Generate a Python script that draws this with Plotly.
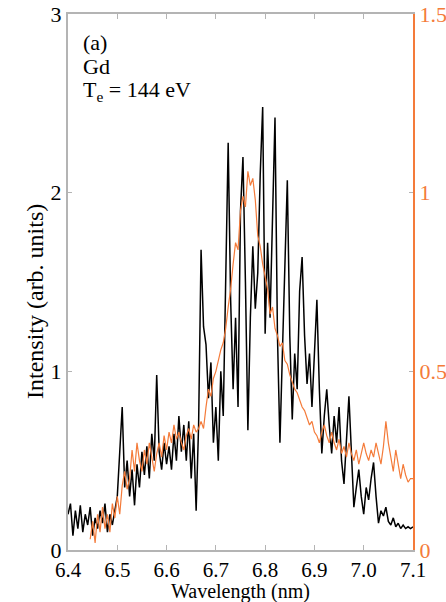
import plotly.graph_objects as go

# ---- data ----
wl_black = [round(6.400 + 0.005 * i, 3) for i in range(141)]
int_black = [
    0.20, 0.26, 0.08, 0.22, 0.12, 0.25, 0.10, 0.20, 0.14, 0.24,
    0.08, 0.18, 0.12, 0.22, 0.15, 0.26, 0.10, 0.20, 0.14, 0.23,
    0.30, 0.55, 0.80, 0.35, 0.50, 0.30, 0.45, 0.25, 0.48, 0.35,
    0.55, 0.42, 0.58, 0.40, 0.65, 0.50, 0.98, 0.55, 0.45, 0.60,
    0.48, 0.58, 0.45, 0.65, 0.50, 0.75, 0.55, 0.70, 0.50, 0.72,
    0.40, 0.65, 0.22, 0.70, 1.68, 1.25, 1.15, 0.85, 1.05, 0.60,
    0.80, 0.50, 1.00, 0.75, 1.60, 2.28, 1.40, 0.90, 1.30, 0.80,
    1.90, 2.20, 1.50, 0.67, 1.30, 1.70, 1.35, 1.55, 2.10, 2.48,
    1.21, 1.72, 1.30, 1.90, 2.42, 1.20, 0.60, 1.10, 1.60, 2.07,
    1.20, 0.73, 1.10, 0.90, 1.45, 1.64, 1.20, 0.93, 1.10, 0.80,
    1.10, 1.40, 0.90, 0.54, 0.75, 0.90, 0.70, 0.54, 0.75, 0.60,
    0.80, 0.50, 0.37, 0.65, 0.86, 0.55, 0.24, 0.35, 0.45, 0.30,
    0.20, 0.35, 0.28, 0.40, 0.49, 0.30, 0.15, 0.22, 0.19, 0.24,
    0.16, 0.14, 0.18, 0.13, 0.15, 0.12, 0.14, 0.12, 0.13, 0.12,
    0.13,
]

wl_orange = [round(6.445 + 0.005 * i, 3) for i in range(132)]
int_orange = [
    0.03, 0.08, 0.02, 0.10, 0.05, 0.12, 0.06, 0.10, 0.05, 0.13,
    0.09, 0.15, 0.10, 0.18, 0.22, 0.17, 0.20, 0.28, 0.22, 0.30,
    0.25, 0.22, 0.28, 0.24, 0.30, 0.26, 0.22, 0.27, 0.30, 0.26,
    0.32, 0.28, 0.33, 0.30, 0.35, 0.31, 0.33, 0.30, 0.28, 0.32,
    0.34, 0.31, 0.35, 0.33, 0.34, 0.36, 0.34, 0.40, 0.45, 0.43,
    0.48, 0.50, 0.53, 0.56, 0.58, 0.62, 0.68, 0.73, 0.80, 0.86,
    0.84, 0.95, 0.99, 0.96, 1.06, 1.02, 1.04, 0.98, 0.88, 0.85,
    0.80, 0.76, 0.73, 0.66, 0.68, 0.62, 0.60, 0.57, 0.58, 0.53,
    0.52, 0.49, 0.47, 0.45, 0.44, 0.42, 0.40, 0.39, 0.37, 0.35,
    0.36, 0.33, 0.32, 0.30, 0.33, 0.35, 0.32, 0.30, 0.33, 0.30,
    0.28, 0.31, 0.27, 0.29, 0.26, 0.30, 0.27, 0.25, 0.28, 0.24,
    0.27, 0.30, 0.27, 0.25, 0.28, 0.26, 0.30, 0.27, 0.24, 0.29,
    0.36, 0.30, 0.26, 0.22, 0.28, 0.24, 0.20, 0.24, 0.21, 0.19,
    0.20, 0.20,
]

x_ticks = [6.4, 6.5, 6.6, 6.7, 6.8, 6.9, 7.0, 7.1]
y_ticks = [0, 1, 2, 3]
y2_ticks = [0, 0.5, 1, 1.5]
y2_labels = ["0", "0.5", "1", "1.5"]
x_title = "Wavelength (nm)"
y_title = "Intensity (arb. units)"

ORANGE = "#F47B3A"
AXGRAY = "#b4b4b4"
FONT = "Liberation Serif, Times New Roman, DejaVu Serif, serif"

fig = go.Figure()
fig.add_trace(go.Scatter(x=wl_black, y=int_black, mode="lines",
                         line=dict(color="black", width=1.5), yaxis="y"))
fig.add_trace(go.Scatter(x=wl_orange, y=int_orange, mode="lines",
                         line=dict(color=ORANGE, width=1.2), yaxis="y2"))

fig.update_layout(
    width=446, height=602,
    margin=dict(l=68, r=33, t=14, b=52),
    paper_bgcolor="white", plot_bgcolor="white",
    showlegend=False,
    font=dict(family=FONT, color="black", size=21),
    xaxis=dict(
        range=[6.4, 7.1], tickvals=x_ticks,
        ticktext=[f"{v:.1f}" for v in x_ticks],
        ticks="inside", ticklen=5, tickwidth=1, tickcolor=AXGRAY,
        showline=True, linecolor=AXGRAY, linewidth=2, mirror="ticks",
        showgrid=False, zeroline=False, automargin=False,
        tickfont=dict(family=FONT, size=21, color="black"),
    ),
    yaxis=dict(
        range=[0, 3], tickvals=y_ticks,
        ticks="inside", ticklen=4, tickwidth=1, tickcolor=AXGRAY,
        showline=True, linecolor=AXGRAY, linewidth=2,
        showgrid=False, zeroline=False, automargin=False,
        tickfont=dict(family=FONT, size=22, color="black"),
    ),
    yaxis2=dict(
        range=[0, 1.5], tickvals=y2_ticks, ticktext=y2_labels,
        overlaying="y", side="right",
        ticks="inside", ticklen=4, tickwidth=1, tickcolor=AXGRAY,
        showline=True, linecolor=ORANGE, linewidth=2,
        showgrid=False, zeroline=False, automargin=False,
        tickfont=dict(family=FONT, size=22, color=ORANGE),
    ),
)

fig.add_annotation(text=x_title, xref="paper", yref="paper",
                   x=(240 - 68) / 345, y=-(591 - 550) / 536,
                   xanchor="center", yanchor="middle", showarrow=False,
                   font=dict(family=FONT, size=20, color="black"))
fig.add_annotation(text=y_title, xref="paper", yref="paper",
                   x=-(68 - 35) / 345, y=1 - (302 - 14) / 536,
                   xanchor="center", yanchor="middle", showarrow=False,
                   textangle=-90,
                   font=dict(family=FONT, size=24, color="black"))

ann_font = dict(family=FONT, size=22, color="black")
for txt, ypix in [("(a)", 42), ("Gd", 67), ("T<sub>e</sub> = 144 eV", 91)]:
    fig.add_annotation(text=txt, xref="paper", yref="paper",
                       x=(81 - 68) / 345, y=1 - (ypix - 14) / 536,
                       xanchor="left", yanchor="middle", showarrow=False,
                       font=ann_font)

fig.write_html("out.html")
